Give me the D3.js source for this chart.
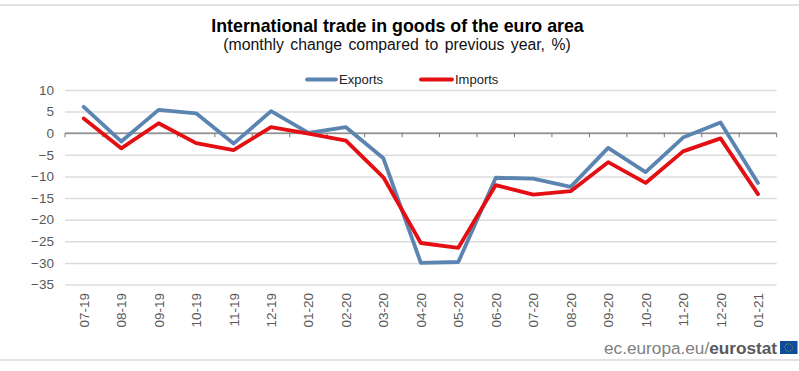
<!DOCTYPE html>
<html>
<head>
<meta charset="utf-8">
<script src="https://cdn.jsdelivr.net/npm/d3@7"></script>
<style>
  html, body { margin: 0; padding: 0; background: #fff; }
  text { font-family: "Liberation Sans", sans-serif; }
</style>
</head>
<body>
<div id="chart-area"></div>
<script>
var months = ["07-19", "08-19", "09-19", "10-19", "11-19", "12-19", "01-20", "02-20", "03-20", "04-20",
    "05-20", "06-20", "07-20", "08-20", "09-20", "10-20", "11-20", "12-20", "01-21"];
var exportsValues = [6.1, -1.9, 5.4, 4.6, -2.4, 5.1, 0.1, 1.4, -5.8, -30.0,
    -29.8, -10.3, -10.5, -12.4, -3.4, -9.0, -1.0, 2.5, -11.5];
var importsValues = [3.4, -3.5, 2.3, -2.3, -3.9, 1.4, -0.1, -1.7, -10.2, -25.4,
    -26.5, -12.0, -14.2, -13.4, -6.7, -11.5, -4.2, -1.2, -14.1];
var yTicks = [10, 5, 0, -5, -10, -15, -20, -25, -30, -35];

var exportsColor = "#5b84b1", importsColor = "#e30f13";

var svg = d3.select("#chart-area").append("svg")
    .attr("width", 799)
    .attr("height", 371)
    .style("display", "block");

var x = d3.scaleBand().domain(months).range([65, 776.7]);
var y = d3.scaleLinear().domain([10, -35]).range([90, 284.5]);

// page rules, top and bottom
svg.append("rect").attr("x", 0).attr("y", 4).attr("width", 799).attr("height", 2).attr("fill", "#e2e2e2");
svg.append("rect").attr("x", 0).attr("y", 359).attr("width", 799).attr("height", 2).attr("fill", "#e2e2e2");

// title
svg.append("text").attr("x", 397.5).attr("y", 32).attr("text-anchor", "middle")
    .attr("font-size", 17.8).attr("font-weight", "bold").attr("fill", "#000")
    .text("International trade in goods of the euro area");
svg.append("text").attr("x", 397).attr("y", 50).attr("text-anchor", "middle")
    .attr("font-size", 15.8).attr("fill", "#111").attr("word-spacing", 2)
    .text("(monthly change compared to previous year, %)");

// gridlines and y labels
var yAxis = d3.axisLeft(y).tickValues(yTicks).tickSize(-(776.7 - 65)).tickPadding(11);
var gy = svg.append("g").attr("transform", "translate(65,0)").call(yAxis);
gy.select(".domain").remove();
gy.selectAll(".tick line").attr("stroke", "#dcdcdc").attr("stroke-width", 1.5);
gy.selectAll(".tick text").attr("font-size", 13.5).attr("fill", "#595959")
    .style("font-family", '"Liberation Sans", sans-serif');

// zero line with ticks between the categories
svg.append("line").attr("x1", x.range()[0]).attr("x2", x.range()[1])
    .attr("y1", y(0)).attr("y2", y(0)).attr("stroke", "#777").attr("stroke-width", 1.2);
svg.selectAll(".zero-tick").data(months.concat(["end"])).enter().append("line")
    .attr("class", "zero-tick")
    .attr("x1", (d, i) => x.range()[0] + i * x.step())
    .attr("x2", (d, i) => x.range()[0] + i * x.step())
    .attr("y1", y(0)).attr("y2", y(0) + 4)
    .attr("stroke", "#777").attr("stroke-width", 1);

// month labels
svg.selectAll(".month").data(months).enter().append("text")
    .attr("class", "month")
    .attr("transform", d => "translate(" + (x(d) + x.bandwidth() / 2 + 5) + ",293) rotate(-90)")
    .attr("text-anchor", "end")
    .attr("font-size", 13.5)
    .attr("fill", "#595959")
    .text(d => d);

// lines
var line = d3.line()
    .x((d, i) => x(months[i]) + x.bandwidth() / 2)
    .y(d => y(d));

svg.append("path").datum(exportsValues).attr("d", line)
    .attr("fill", "none").attr("stroke", exportsColor).attr("stroke-width", 3.8)
    .attr("stroke-linejoin", "round").attr("stroke-linecap", "round");
svg.append("path").datum(importsValues).attr("d", line)
    .attr("fill", "none").attr("stroke", importsColor).attr("stroke-width", 3.8)
    .attr("stroke-linejoin", "round").attr("stroke-linecap", "round");

// legend
var legendItems = [
    { name: "Exports", color: exportsColor, x1: 307, x2: 336, tx: 339 },
    { name: "Imports", color: importsColor, x1: 421, x2: 452, tx: 455 }
];
legendItems.forEach(function (item) {
    svg.append("line").attr("x1", item.x1).attr("x2", item.x2).attr("y1", 79.5).attr("y2", 79.5)
        .attr("stroke", item.color).attr("stroke-width", 3.8).attr("stroke-linecap", "round");
    svg.append("text").attr("x", item.tx).attr("y", 84).attr("font-size", 13).attr("fill", "#222").text(item.name);
});

// eurostat footer
var footer = svg.append("text").attr("x", 777).attr("y", 354).attr("text-anchor", "end")
    .attr("font-size", 17.2).attr("fill", "#808080");
footer.append("tspan").text("ec.europa.eu/");
footer.append("tspan").attr("font-weight", "bold").attr("fill", "#58595b").text("eurostat");

// eu flag
svg.append("rect").attr("x", 780).attr("y", 341).attr("width", 17.5).attr("height", 13).attr("fill", "#0f4c9c");
var stars = d3.range(12);
svg.selectAll(".star").data(stars).enter().append("circle")
    .attr("class", "star")
    .attr("cx", d => 788.7 + 3.8 * Math.cos(d * Math.PI / 6))
    .attr("cy", d => 347.5 + 3.8 * Math.sin(d * Math.PI / 6))
    .attr("r", 0.45)
    .attr("fill", "#d8c63a");
</script>
</body>
</html>
